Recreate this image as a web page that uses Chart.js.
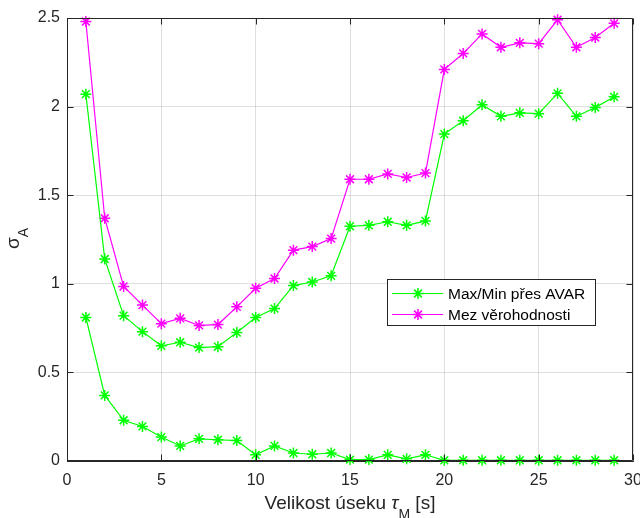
<!DOCTYPE html>
<html>
<head>
<meta charset="utf-8">
<script src="https://cdn.jsdelivr.net/npm/chart.js@4/dist/chart.umd.min.js"></script>
<style>
  html, body { margin: 0; padding: 0; background: #fff; }
  canvas { display: block; }
</style>
</head>
<body>
<canvas id="c" width="640" height="518"></canvas>
<script>
// Segment length tau_M [s]
const blockSizes = [1,2,3,4,5,6,7,8,9,10,11,12,13,14,15,16,17,18,19,20,21,22,23,24,25,26,27,28,29];
// Upper and lower envelope of sigma_A from AVAR
const avarMax = [2.07,1.14,0.82,0.73,0.65,0.67,0.64,0.645,0.725,0.81,0.86,0.99,1.01,1.045,1.325,1.33,1.35,1.33,1.355,1.845,1.92,2.01,1.945,1.965,1.96,2.075,1.945,1.995,2.055];
const avarMin = [0.81,0.37,0.23,0.195,0.135,0.085,0.125,0.12,0.115,0.035,0.085,0.045,0.038,0.045,0.008,0.008,0.035,0.012,0.035,0.004,0.004,0.004,0.004,0.004,0.004,0.004,0.004,0.004,0.004];
// Likelihood bound
const likelihoodBound = [2.48,1.37,0.985,0.88,0.775,0.805,0.765,0.77,0.87,0.975,1.03,1.19,1.21,1.255,1.59,1.59,1.62,1.6,1.625,2.21,2.3,2.41,2.335,2.36,2.355,2.49,2.335,2.39,2.47];
const xTicks = [0,5,10,15,20,25,30];
const yTicks = [0,0.5,1,1.5,2,2.5];
const legendLabels = ['Max/Min přes AVAR', 'Mez věrohodnosti'];

const GREEN = '#00ff00';
const MAGENTA = '#ff00ff';
const INK = '#262626';
const FONT = '"Liberation Sans", Arial, Helvetica, sans-serif';

const pts = ys => blockSizes.map((x, i) => ({ x, y: ys[i] }));

function series(label, ys, color) {
  return {
    label, data: pts(ys),
    borderColor: color, backgroundColor: color,
    borderWidth: 1.2, tension: 0,
    pointStyle: 'star', pointRadius: 5.5, pointBorderWidth: 1.5,
    pointBorderColor: color, pointBackgroundColor: color,
    clip: false
  };
}

function drawStar(ctx, x, y, r, color) {
  ctx.save();
  ctx.strokeStyle = color;
  ctx.lineWidth = 1.5;
  ctx.beginPath();
  ctx.moveTo(x - r, y); ctx.lineTo(x + r, y);
  ctx.moveTo(x, y - r); ctx.lineTo(x, y + r);
  const d = r * Math.SQRT1_2;
  ctx.moveTo(x - d, y - d); ctx.lineTo(x + d, y + d);
  ctx.moveTo(x - d, y + d); ctx.lineTo(x + d, y - d);
  ctx.stroke();
  ctx.restore();
}

// Box outline and inward tick marks on all four sides
const axesBox = {
  id: 'axesBox',
  afterDatasetsDraw(chart) {
    const { ctx, chartArea: a, scales } = chart;
    const L = Math.round(a.left) + 0.5, R = Math.round(a.right) - 0.5;
    const T = Math.round(a.top) + 0.5, B = Math.round(a.bottom) - 0.5;
    const tl = 6;
    ctx.save();
    ctx.strokeStyle = INK;
    ctx.lineWidth = 1;
    ctx.beginPath();
    ctx.rect(L, T, R - L, B - T);
    xTicks.forEach(v => {
      const px = Math.round(scales.x.getPixelForValue(v)) + 0.5;
      ctx.moveTo(px, B); ctx.lineTo(px, B - tl);
      ctx.moveTo(px, T); ctx.lineTo(px, T + tl);
    });
    yTicks.forEach(v => {
      const py = Math.round(scales.y.getPixelForValue(v)) + 0.5;
      ctx.moveTo(L, py); ctx.lineTo(L + tl, py);
      ctx.moveTo(R, py); ctx.lineTo(R - tl, py);
    });
    ctx.stroke();
    ctx.restore();
  }
};

// Axis titles with subscripts
function drawRich(ctx, parts, x, y) {
  parts.forEach(p => {
    ctx.font = p.font;
    ctx.fillText(p.t, x, y + (p.dy || 0));
    x += ctx.measureText(p.t).width;
  });
}
function richWidth(ctx, parts) {
  let w = 0;
  parts.forEach(p => { ctx.font = p.font; w += ctx.measureText(p.t).width; });
  return w;
}

const titles = {
  id: 'titles',
  afterDraw(chart) {
    const { ctx, chartArea: a } = chart;
    ctx.save();
    ctx.fillStyle = INK;
    ctx.textBaseline = 'alphabetic';
    ctx.textAlign = 'left';
    const xParts = [
      { t: 'Velikost úseku ', font: '19px ' + FONT },
      { t: 'τ', font: 'italic 19px ' + FONT },
      { t: 'M', font: '14px ' + FONT, dy: 10 },
      { t: ' [s]', font: '19px ' + FONT }
    ];
    const xw = richWidth(ctx, xParts);
    drawRich(ctx, xParts, (a.left + a.right) / 2 - xw / 2, 509);

    const yParts = [
      { t: 'σ', font: '19px ' + FONT },
      { t: 'A', font: '14px ' + FONT, dy: 9 }
    ];
    const yw = richWidth(ctx, yParts);
    ctx.translate(18.5, (a.top + a.bottom) / 2 - 1);
    ctx.rotate(-Math.PI / 2);
    drawRich(ctx, yParts, -yw / 2, 0);
    ctx.restore();
  }
};

// Legend box with line + marker samples
const legendBox = {
  id: 'legendBox',
  afterDraw(chart) {
    const ctx = chart.ctx;
    const bx = 387.5, by = 279.5, bw = 208, bh = 46;
    ctx.save();
    ctx.fillStyle = '#fff';
    ctx.fillRect(bx, by, bw, bh);
    ctx.strokeStyle = INK;
    ctx.lineWidth = 1;
    ctx.strokeRect(bx, by, bw, bh);
    const rows = [{ y: 293.5, c: GREEN }, { y: 314.5, c: MAGENTA }];
    rows.forEach((r, i) => {
      ctx.strokeStyle = r.c;
      ctx.lineWidth = 1.2;
      ctx.beginPath();
      ctx.moveTo(392, r.y); ctx.lineTo(443, r.y);
      ctx.stroke();
      drawStar(ctx, 418, r.y, 5.5, r.c);
      ctx.fillStyle = '#000';
      ctx.font = '15.5px ' + FONT;
      ctx.textBaseline = 'middle';
      ctx.fillText(legendLabels[i], 448, r.y + 1);
    });
    ctx.restore();
  }
};

new Chart(document.getElementById('c'), {
  type: 'line',
  data: {
    datasets: [
      series(legendLabels[0], avarMax, GREEN),
      series(legendLabels[0], avarMin, GREEN),
      series(legendLabels[1], likelihoodBound, MAGENTA)
    ]
  },
  options: {
    responsive: false,
    animation: false,
    devicePixelRatio: 1,
    layout: { padding: { top: 18, right: 7, left: 0, bottom: 0 } },
    plugins: { legend: { display: false }, tooltip: { enabled: false } },
    scales: {
      x: {
        type: 'linear', min: 0, max: 30,
        afterBuildTicks(s) { s.ticks = xTicks.map(v => ({ value: v })); },
        ticks: { color: INK, font: { size: 16, family: FONT }, padding: 10, maxRotation: 0,
                 callback: v => String(v) },
        grid: { color: 'rgba(38,38,38,0.15)', drawTicks: false },
        border: { color: INK, width: 1 },
        afterFit(s) { s.height = 57; s.paddingLeft = 0; s.paddingRight = 0; }
      },
      y: {
        type: 'linear', min: 0, max: 2.5,
        afterBuildTicks(s) { s.ticks = yTicks.map(v => ({ value: v })); },
        ticks: { color: INK, font: { size: 16, family: FONT }, padding: 7,
                 callback: v => String(v) },
        grid: { color: 'rgba(38,38,38,0.15)', drawTicks: false },
        border: { color: INK, width: 1 },
        afterFit(s) { s.width = 67; s.paddingTop = 0; s.paddingBottom = 0; }
      }
    }
  },
  plugins: [axesBox, titles, legendBox]
});
</script>
</body>
</html>
